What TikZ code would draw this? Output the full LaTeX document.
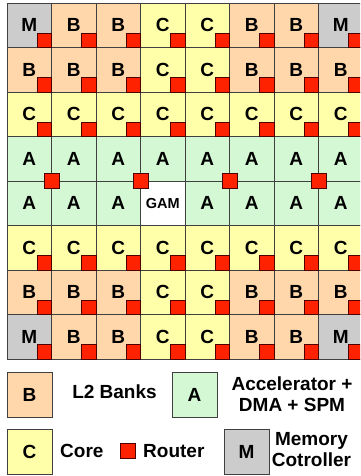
\documentclass[tikz,border=0pt]{standalone}
\usepackage{fontspec}
\setmainfont{Liberation Sans}
\definecolor{colB}{HTML}{FFD7AA}
\definecolor{colC}{HTML}{FFFFAA}
\definecolor{colA}{HTML}{D4F7D4}
\definecolor{colM}{HTML}{CCCCCC}
\definecolor{colG}{HTML}{FFFFFF}
\definecolor{colR}{HTML}{FF2200}
\definecolor{gridcol}{HTML}{404040}
\tikzset{
  cell/.style={draw=gridcol, line width=0.9pt, minimum size=44.5pt, inner sep=0pt, outer sep=0pt,
    font=\fontsize{19}{21}\selectfont\bfseries},
  typeM/.style={}, typeB/.style={}, typeC/.style={}, typeA/.style={},
  typeG/.style={font=\fontsize{14.5}{16}\selectfont\bfseries},
  router/.style={draw=black!70!red, line width=0.5pt, fill=colR, minimum size=14.5pt, inner sep=0pt, outer sep=0pt},
  legtext/.style={font=\fontsize{19}{21}\selectfont\bfseries, inner sep=0pt, align=center}
}
\begin{document}
\begin{tikzpicture}[x=1pt,y=-1pt]
\clip (0,0) rectangle (360,476);
\fill[white] (0,0) rectangle (360,476);
% grid of cells
\foreach \r/\row in {0/{M/M,B/B,B/B,C/C,C/C,B/B,B/B,M/M},
                     1/{B/B,B/B,B/B,C/C,C/C,B/B,B/B,B/B},
                     2/{C/C,C/C,C/C,C/C,C/C,C/C,C/C,C/C},
                     3/{A/A,A/A,A/A,A/A,A/A,A/A,A/A,A/A},
                     4/{A/A,A/A,A/A,G/GAM,A/A,A/A,A/A,A/A},
                     5/{C/C,C/C,C/C,C/C,C/C,C/C,C/C,C/C},
                     6/{B/B,B/B,B/B,C/C,C/C,B/B,B/B,B/B},
                     7/{M/M,B/B,B/B,C/C,C/C,B/B,B/B,M/M}}{
  \foreach \t/\s [count=\c from 0] in \row {
    \node[cell, type\t, fill=col\t, anchor=north west] (c-\r-\c) at ({7+44.5*\c},{3+44.5*\r}) {\s};
  }
}
% routers in corner of cells
\foreach \r in {0,1,2,5,6,7}{
  \foreach \c in {0,...,7}{
    \node[router, anchor=south east] (r-\r-\c) at (c-\r-\c.south east) {};
  }
}
% routers between accelerator rows
\foreach \c in {0,2,4,6}{
  \node[router, minimum size=15pt] (ra-\c) at (c-3-\c.south east) {};
}
% legend
\node[cell, fill=colB, minimum size=45pt, anchor=north west] (legB) at (7,372) {B};
\node[legtext] (txtB) at (114.5,392) {L2 Banks};
\node[cell, fill=colA, minimum size=45pt, anchor=north west] (legA) at (172,372) {A};
\node[legtext] (txtA) at (292,394) {Accelerator +\\DMA + SPM};
\node[cell, fill=colC, minimum size=45pt, anchor=north west] (legC) at (7,429) {C};
\node[legtext, anchor=west] (txtC) at (60,451) {Core};
\node[router, minimum size=15pt] (legR) at (127.5,451) {};
\node[legtext, anchor=west] (txtR) at (143,451) {Router};
\node[cell, fill=colM, minimum size=45pt, anchor=north west] (legM) at (224,429) {M};
\node[legtext] (txtM) at (311.5,449.5) {Memory\\Cotroller};
\end{tikzpicture}
\end{document}
